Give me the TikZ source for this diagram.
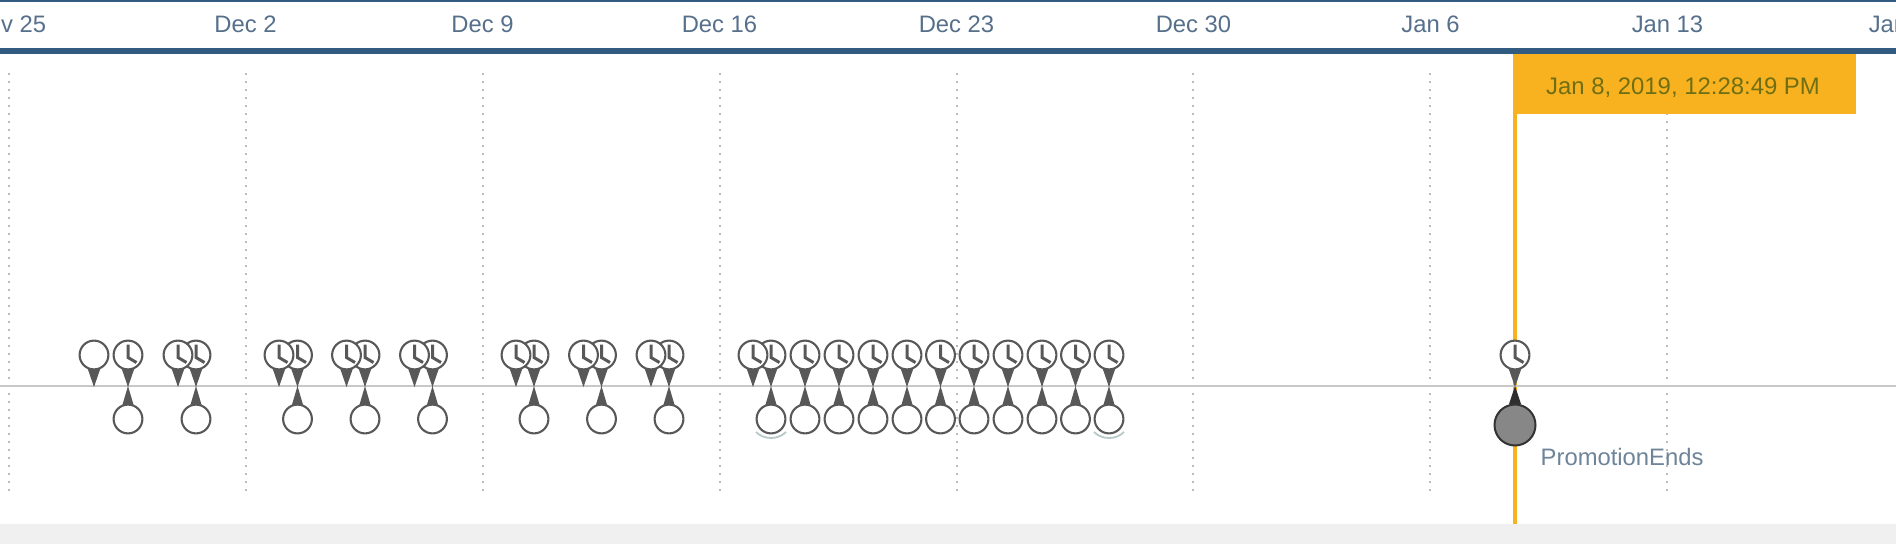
\documentclass[tikz,border=0pt]{standalone}
\usepackage{fontspec}
\setmainfont{Liberation Sans}
\definecolor{headblue}{HTML}{315B80}
\definecolor{ticktext}{HTML}{56708C}
\definecolor{gridgray}{HTML}{BBBBBB}
\definecolor{axisgray}{HTML}{C8C8C8}
\definecolor{pingray}{HTML}{585858}
\definecolor{marker}{HTML}{F9B21F}
\definecolor{markertext}{HTML}{6E6F14}
\definecolor{bandgray}{HTML}{F0F0F0}
\definecolor{eventtext}{HTML}{6E8499}
\definecolor{archalo}{HTML}{B8C8C8}
\tikzset{
  x=1pt,y=-1pt,
  ticklabel/.style={text=ticktext,anchor=base,inner sep=0pt,font=\fontsize{23.8}{28}\selectfont},
  gridline/.style={draw=gridgray,line width=2pt,dash pattern=on 2pt off 6pt},
  bubble/.style={draw=pingray,fill=white,line width=2.1pt},
  clockhand/.style={draw=pingray,line width=3pt,line join=miter},
  pics/toppin/.style={code={
    \fill[pingray] (-6.2,14) -- (6.2,14) -- (0,32) -- cycle;
    \draw[bubble] (0,0) circle (14.4);
  }},
  pics/clockface/.style={code={
    \draw[clockhand] (0,-10.5) -- (0,2.5) -- (8.5,7.5);
  }},
  pics/lowpin/.style={code={
    \fill[pingray] (-5.6,-14) -- (5.6,-14) -- (0,-33) -- cycle;
    \draw[bubble] (0,0) circle (14.4);
  }},
  pics/halo/.style={code={
    \draw[archalo,line width=1.8pt] (-15,13) .. controls (-7,21) and (7,21) .. (15,13);
  }}
}
\begin{document}
\begin{tikzpicture}
\useasboundingbox (0,0) rectangle (1896,544);
\clip (0,0) rectangle (1896,544);
\fill[white] (0,0) rectangle (1896,544);
\fill[bandgray] (0,524) rectangle (1896,544);
% grid
\foreach \gx in {9,246,483,720,957,1193,1430,1667}
  \draw[gridline] (\gx,73) -- (\gx,491);
% header
\fill[headblue] (0,0) rectangle (1896,2);
\fill[headblue] (0,48) rectangle (1896,54);
\foreach \gx/\gt/\gn in {8.5/Nov 25/a,245.5/Dec 2/b,482.5/Dec 9/c,719.5/Dec 16/d,956.5/Dec 23/e,1193.5/Dec 30/f,1430.5/Jan 6/g,1667.5/Jan 13/h,1904.5/Jan 20/i}
  \node[ticklabel] (tick\gn) at (\gx,32.5) {\gt};
% marker
\fill[marker] (1513,54) rectangle (1517,524);
\fill[marker] (1513,54) rectangle (1856,114);
\node[anchor=base,inner sep=0pt,text=markertext,font=\fontsize{23.9}{28}\selectfont] (stamp) at (1683,94.5) {Jan 8, 2019, 12:28:49 PM};
% axis
\fill[axisgray] (0,385) rectangle (1896,387);
% right pins of each pair, with the lower bubble
\foreach \px in {128,196,297.5,365,432.5,534,601.5,669,771,805,839,873,907,940.5,974,1008,1042,1075.5,1109}{
  \pic at (\px,355) {toppin};
  \pic at (\px,355) {clockface};
  \pic at (\px,419) {lowpin};
}
\pic at (771,419) {halo};
\pic at (1109,419) {halo};
% left pins
\pic at (94,355) {toppin};
\foreach \px in {178,279,346.5,414.5,516,583.5,651,753}{
  \pic at (\px,355) {toppin};
  \pic at (\px,355) {clockface};
}
% event
\pic at (1515,355) {toppin};
\pic at (1515,355) {clockface};
\fill[black!82] (1509,404) -- (1521,404) -- (1515,386) -- cycle;
\node[circle,draw=black!80,fill=black!47,line width=2pt,minimum size=41pt,inner sep=0pt] (ends) at (1515,425) {};
\node[anchor=base west,inner sep=0pt,text=eventtext,font=\fontsize{23.8}{28}\selectfont] (endslabel) at (1540.5,465) {PromotionEnds};
\end{tikzpicture}
\end{document}
